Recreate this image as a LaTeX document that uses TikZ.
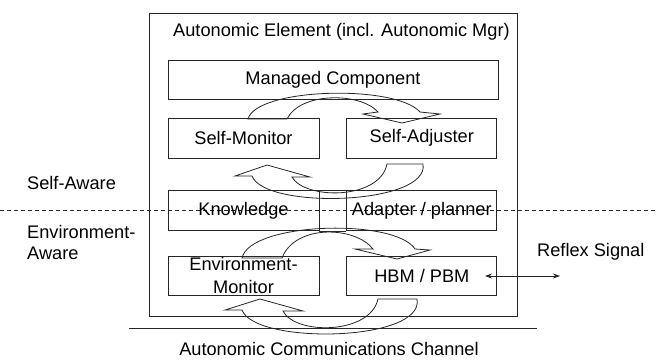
\documentclass[tikz,border=0pt]{standalone}
\usepackage{fontspec}
\setmainfont{Liberation Sans}
\usepackage{tikz}
\usetikzlibrary{positioning,arrows.meta}

\tikzset{
  box/.style={draw=black!85, line width=0.8pt, inner sep=0pt, minimum height=40pt, minimum width=151pt, align=center},
  bigarrow/.style={draw=black!85, line width=0.8pt, line join=miter},
  lbl/.style={inner sep=0pt, align=left}
}

\begin{document}
\begin{tikzpicture}[x=1pt, y=-1pt, font=\fontsize{18.2}{22}\selectfont]
  \useasboundingbox (0,0) rectangle (656,362);
  % outer element and the layer divider
  \draw[draw=black!85, line width=0.8pt] (149,13) rectangle (517,316);
  \coordinate (divL) at (0,210);
  \coordinate (divR) at (656,210);
  \draw[draw=black!85, line width=0.7pt, dash pattern=on 4pt off 3pt] (divL) -- (divR);
  \node (elem) [lbl, anchor=west] at (173,32) {Autonomic Element (incl. Autonomic Mgr)};

  \node (managed) [box, minimum width=330pt, minimum height=39pt] at (333,79.5) {Managed Component};
  \node (selfmon) [box] at (243.5,138) {Self-Monitor};
  \node (selfadj) [box, minimum width=150pt, right=27pt of selfmon] {Self-Adjuster};
  \node (know) [box] at (243.5,210.5) {Knowledge};
  \node (adapt) [box, minimum width=150pt, right=27pt of know] {Adapter / planner};
  \draw[draw=black!85, line width=0.8pt] (know.north east) -- (adapt.north west);
  \draw[draw=black!85, line width=0.8pt] (know.south east) -- (adapt.south west);
  \node (envmon) [box, minimum height=39pt, font=\fontsize{18.2}{23}\selectfont] at (243.5,275.5) {Environment-\\Monitor};
  \node (hbm) [box, minimum width=150pt, minimum height=39pt, right=27pt of envmon] {HBM / PBM};

  % loop arrows
  \draw[bigarrow] (248,119) .. controls (256,88) and (395,84) .. (420,112) -- (440,114) -- (402,123)
    -- (363,114) -- (378,112) .. controls (360,92) and (300,92) .. (287,119) -- cycle;
  \draw[bigarrow] (423,164) .. controls (430,205) and (265,210) .. (252,176) -- (235,176) -- (267,165)
    -- (310,177) -- (292,177) .. controls (305,200) and (380,200) .. (387,164) -- cycle;
  \draw[bigarrow] (242,258) .. controls (250,222) and (395,218) .. (415,249) -- (430,250) -- (397,259)
    -- (355,249) -- (373,249) .. controls (355,226) and (295,224) .. (282,258) -- cycle;
  \draw[bigarrow] (417,299) .. controls (425,342) and (255,345) .. (242,310) -- (225,310) -- (260,299)
    -- (303,311) -- (283,311) .. controls (295,335) and (370,335) .. (378,299) -- cycle;

  % side labels
  \node (selfaware) [lbl, anchor=west] at (27,183) {Self-Aware};
  \node (envaware) [lbl, anchor=west, font=\fontsize{18.2}{21}\selectfont] at (27,242.5) {Environment-\\Aware};
  \node (reflex) [lbl, anchor=west] at (537,252) {Reflex Signal};
  \coordinate (rs0) at (485,276);
  \coordinate (rs1) at (560,276);
  \draw[black!85, line width=0.8pt, {Stealth[length=7pt,width=5pt]}-{Stealth[length=7pt,width=5pt]}] (rs0) -- (rs1);

  % channel
  \coordinate (chL) at (129,328);
  \coordinate (chR) at (537,328);
  \draw[draw=black!85, line width=0.8pt] (chL) -- (chR);
  \node (channel) [lbl] at (329,349) {Autonomic Communications Channel};
\end{tikzpicture}
\end{document}
